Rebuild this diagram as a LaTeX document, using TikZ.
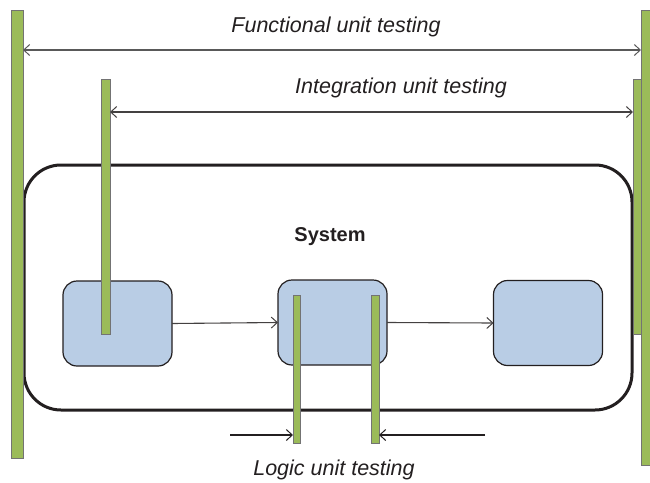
\documentclass[tikz,border=0pt]{standalone}
\usepackage{fontspec}
\setmainfont{Liberation Sans}
\usetikzlibrary{arrows.meta}
\definecolor{bargreen}{HTML}{9BBB59}
\definecolor{boxblue}{HTML}{B9CDE5}
\definecolor{ink}{HTML}{231F20}
\begin{document}
\begin{tikzpicture}[x=1pt,y=-1pt]

      \tikzset{bar/.style={draw=black!55, line width=0.8pt, fill=bargreen, inner sep=0pt, outer sep=0pt},
               unitbox/.style={draw=ink, line width=1.2pt, fill=boxblue, rounded corners=14pt, minimum width=109pt, minimum height=85pt, inner sep=0pt, outer sep=0pt},
               label/.style={font=\fontsize{21.5}{25}\selectfont\itshape, text=ink, anchor=base, inner sep=0pt},
               measure/.style={-{Straight Barb[length=6pt,width=11pt,line width=1pt]}, line width=1.1pt}}
      \useasboundingbox (0,0) rectangle (650,482);
% System
      	\node[draw=ink, line width=3pt, rounded corners=37pt, minimum width=608pt, minimum height=245pt, inner sep=0pt] (sys) at (328,287.5) {};
      	\node[font=\fontsize{20}{24}\selectfont\bfseries, text=ink, anchor=base] (systxt) at (330,241) {System};
% Boxes
      	\node[unitbox] (b1) at (117.5,323.5) {};
      	\node[unitbox] (b2) at (332.5,322.5) {};
      	\node[unitbox] (b3) at (548,323) {};
      	\draw[measure, draw=ink!85] (b1.east) -- (b2.west);
      	\draw[measure, draw=ink!85] (b2.east) -- (b3.west);
% Bars
      	\node[bar, minimum width=12pt, minimum height=448pt] (f1) at (17,234) {};
      	\node[bar, minimum width=10pt, minimum height=455pt] (f2) at (646,237.5) {};
      	\node[bar, minimum width=9pt, minimum height=255pt] (i1) at (105.5,206.5) {};
      	\node[bar, minimum width=8pt, minimum height=255pt] (i2) at (637,206.5) {};
      	\node[bar, minimum width=7pt, minimum height=148pt] (l1) at (296.5,369) {};
      	\node[bar, minimum width=8pt, minimum height=148pt] (l2) at (375,369) {};
% Levels
      	\coordinate (fy) at (0,50);
      	\coordinate (iy) at (0,112);
      	\coordinate (la) at (230,435);
      	\coordinate (lb) at (485,435);
		\draw[measure, draw=black!65, {Straight Barb[length=6pt,width=11pt,line width=1pt]}-{Straight Barb[length=6pt,width=11pt,line width=1pt]}] (f1.east |- fy) -- (f2.west |- fy);
		\draw[measure, draw=ink!85, {Straight Barb[length=6pt,width=11pt,line width=1pt]}-{Straight Barb[length=6pt,width=11pt,line width=1pt]}] (i1.east |- iy) -- (i2.west |- iy);
		\draw[measure, draw=ink] (la) -- (la -| l1.west);
		\draw[measure, draw=ink] (lb) -- (lb -| l2.east);
% Labels
		\node[label] (ftxt) at (336,32) {Functional unit testing};
		\node[label] (itxt) at (401,93) {Integration unit testing};
		\node[label] (ltxt) at (334,475) {Logic unit testing};

	\end{tikzpicture}
\end{document}
